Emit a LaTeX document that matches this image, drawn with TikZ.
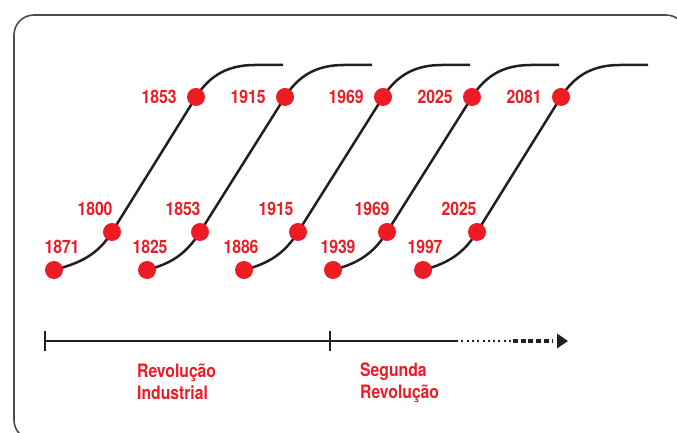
\documentclass[tikz,border=0pt]{standalone}
\usepackage{fontspec}
\newfontfamily\condfont[FakeStretch=0.85]{TeX Gyre Heros}
\usetikzlibrary{
    arrows.meta,
    positioning
}
\definecolor{wavered}{HTML}{ED1C24}
\definecolor{ink}{HTML}{231F20}
\tikzset{dot/.style={inner sep=0pt, circle, fill=wavered, minimum size=18pt}}
\tikzset{year/.style={inner sep=0pt, text=wavered, font=\condfont\bfseries\fontsize{18.5}{22}\selectfont}}
\tikzset{wave/.style={line width=2.5pt, draw=ink}}
\tikzset{axis/.style={line width=2.2pt, draw=ink}}
\pgfdeclarelayer{background}
\pgfsetlayers{background,main}

\begin{document}
\begin{tikzpicture}[x=1pt, y=1pt]
                        \useasboundingbox (0,0) rectangle (677,433);
                        \clip (0,0) rectangle (677,433);
                        \draw[line width=1.6pt, draw=black!70, rounded corners=20pt] (14,-7) rectangle (686,418);

                        % dots: bottom, middle and top of each wave
                        \node[dot] (b1) at (54, 163) {};
                        \node[dot] (b2) at (147, 163) {};
                        \node[dot] (b3) at (244, 163) {};
                        \node[dot] (b4) at (333, 163) {};
                        \node[dot] (b5) at (423, 163) {};
                        \node[dot] (m1) at (112, 201) {};
                        \node[dot] (m2) at (200, 201) {};
                        \node[dot] (m3) at (298, 201) {};
                        \node[dot] (m4) at (387, 201) {};
                        \node[dot] (m5) at (477, 201) {};
                        \node[dot] (t1) at (196, 336) {};
                        \node[dot] (t2) at (285, 336) {};
                        \node[dot] (t3) at (383, 336) {};
                        \node[dot] (t4) at (472, 336) {};
                        \node[dot] (t5) at (561, 336) {};

                        \node[year, above=7pt of b1, xshift=8pt] (lb1) {1871};
                        \node[year, above=7pt of b2, xshift=3pt] (lb2) {1825};
                        \node[year, above=7pt of b3, xshift=-3pt] (lb3) {1886};
                        \node[year, above=7pt of b4, xshift=5pt] (lb4) {1939};
                        \node[year, above=7pt of b5, xshift=2pt] (lb5) {1997};
                        \node[year, above=7pt of m1, xshift=-17pt] (lm1) {1800};
                        \node[year, above=7pt of m2, xshift=-17pt] (lm2) {1853};
                        \node[year, above=7pt of m3, xshift=-22pt] (lm3) {1915};
                        \node[year, above=7pt of m4, xshift=-15pt] (lm4) {1969};
                        \node[year, above=7pt of m5, xshift=-18pt] (lm5) {2025};
                        \node[year, left=10pt of t1] (lt1) {1853};
                        \node[year, left=10pt of t2] (lt2) {1915};
                        \node[year, left=10pt of t3] (lt3) {1969};
                        \node[year, left=10pt of t4] (lt4) {2025};
                        \node[year, left=10pt of t5] (lt5) {2081};

                        \begin{pgfonlayer}{background}
                        \draw[wave]
                        (b1.center) to[out=15, in=238] (m1.center) -- (t1.center) to[out=58, in=180] ++(59,32) -- ++(28,0)
                        (b2.center) to[out=15, in=238] (m2.center) -- (t2.center) to[out=58, in=180] ++(59,32) -- ++(28,0)
                        (b3.center) to[out=15, in=238] (m3.center) -- (t3.center) to[out=58, in=180] ++(59,32) -- ++(28,0)
                        (b4.center) to[out=15, in=238] (m4.center) -- (t4.center) to[out=58, in=180] ++(59,32) -- ++(28,0)
                        (b5.center) to[out=15, in=238] (m5.center) -- (t5.center) to[out=58, in=180] ++(59,32) -- ++(28,0);
                        \end{pgfonlayer}

                        % time axis
                        \coordinate (a0) at (45, 92);
                        \coordinate (a1) at (330, 92);
                        \coordinate (a2) at (456, 92);
                        \coordinate (a3) at (513, 92);
                        \coordinate (a4) at (553, 92);
                        \coordinate (a5) at (568, 92);
                        \draw[axis] (a0) -- (a2);
                        \draw[axis] (a0) ++(0,-10) -- ++(0,20);
                        \draw[axis] (a1) ++(0,-10) -- ++(0,20);
                        \draw[ink, line width=2.2pt, dash pattern=on 2pt off 3.3pt] (a2) -- (a3);
                        \draw[ink, line width=4pt, dash pattern=on 5pt off 2.7pt] (a3) -- (a4);
                        \fill[ink] (a5) -- ++(-11,7.5) -- ++(0,-15) -- cycle;

                        \node[year, align=left, anchor=north west] (rev1) at (137, 69) {Revolução\\Industrial};
                        \node[year, align=left, anchor=north west] (rev2) at (360, 70) {Segunda\\Revolução};
                    \end{tikzpicture}
\end{document}
